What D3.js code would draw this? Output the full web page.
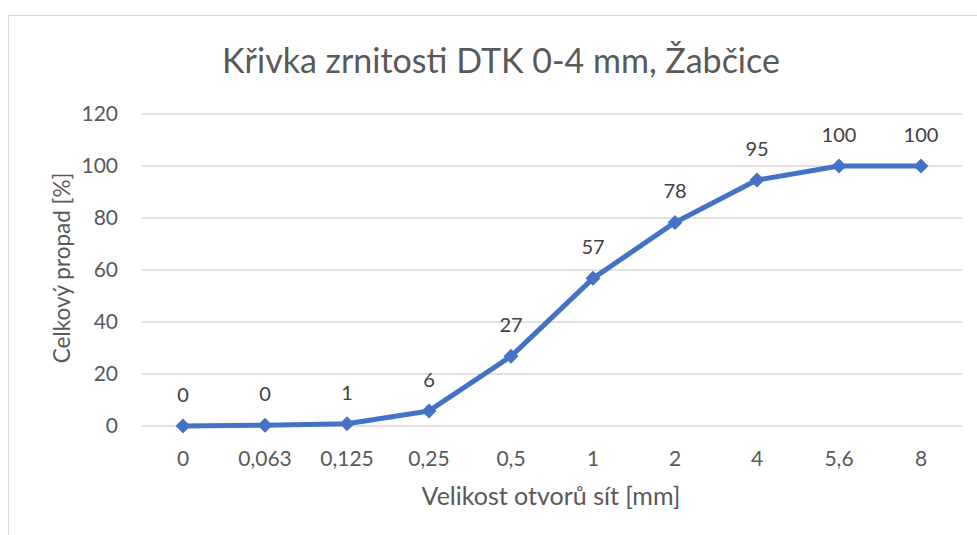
<!DOCTYPE html>
<html lang="cs">
<head>
<meta charset="UTF-8">
<title>Křivka zrnitosti</title>
<script src="https://d3js.org/d3.v7.min.js"></script>
<style>
  body, html { margin: 0; background: #fff; }
  svg { display: block; font-family: Lato, 'Open Sans', sans-serif; }
</style>
</head>
<body>
<svg id="chart" width="977" height="535"></svg>
<script>
const sieves = ["0", "0,063", "0,125", "0,25", "0,5", "1", "2", "4", "5,6", "8"];
const passing = [0, 0.3, 0.9, 5.8, 26.8, 56.8, 78.3, 94.6, 100, 100];
const yTicks = [0, 20, 40, 60, 80, 100, 120];

const svg = d3.select("#chart");
const m = {left: 142, right: 15, top: 114, bottom: 109};
const W = 977, H = 535;

// chart frame
svg.append("rect")
  .attr("x", 8.5).attr("y", 15.5)
  .attr("width", 1000).attr("height", 600)
  .attr("fill", "#fff").attr("stroke", "#d9d9d9");

const x = d3.scaleBand().domain(sieves).range([m.left, W - m.right]);
const y = d3.scaleLinear().domain([0, 120]).range([H - m.bottom, m.top]);

// gridlines
svg.append("g")
  .selectAll("line").data(yTicks).join("line")
  .attr("x1", m.left).attr("x2", W - m.right)
  .attr("y1", d => y(d)).attr("y2", d => y(d))
  .attr("stroke", "#d9d9d9").attr("stroke-width", 1.3);

const yAxis = svg.append("g")
  .attr("transform", `translate(${m.left - 24},0)`)
  .call(d3.axisLeft(y).tickValues(yTicks).tickSize(0).tickPadding(0));
yAxis.select(".domain").remove();
yAxis.attr("font-family", null).attr("font-size", 21)
  .selectAll("text").attr("fill", "#595959");

const xAxis = svg.append("g")
  .attr("transform", `translate(0,${H - m.bottom + 21})`)
  .call(d3.axisBottom(x).tickSize(0).tickPadding(4));
xAxis.select(".domain").remove();
xAxis.attr("font-family", null).attr("font-size", 21)
  .selectAll("text").attr("fill", "#595959");

// title + axis titles
svg.append("text")
  .attr("x", 501).attr("y", 73)
  .attr("text-anchor", "middle")
  .attr("fill", "#595959").attr("font-size", 34)
  .text("Křivka zrnitosti DTK 0-4 mm, Žabčice");

svg.append("text")
  .attr("x", 551).attr("y", 505)
  .attr("text-anchor", "middle")
  .attr("fill", "#595959").attr("font-size", 25)
  .text("Velikost otvorů sít [mm]");

svg.append("text")
  .attr("transform", `translate(70,${y(60) - 2}) rotate(-90)`)
  .attr("text-anchor", "middle")
  .attr("fill", "#595959").attr("font-size", 22.5)
  .text("Celkový propad [%]");

// series
const cx = d => x(d) + x.bandwidth() / 2;
const pts = sieves.map((s, i) => [cx(s), y(passing[i])]);

svg.append("path")
  .datum(pts)
  .attr("d", d3.line())
  .attr("fill", "none")
  .attr("stroke", "#4472c4")
  .attr("stroke-width", 5)
  .attr("stroke-linejoin", "round");

svg.append("g")
  .selectAll("path").data(pts).join("path")
  .attr("transform", d => `translate(${d[0]},${d[1]}) rotate(45)`)
  .attr("d", d3.symbol(d3.symbolSquare, 112))
  .attr("fill", "#4472c4");

svg.append("g")
  .selectAll("text").data(pts).join("text")
  .attr("x", d => d[0]).attr("y", d => d[1] - 24)
  .attr("text-anchor", "middle")
  .attr("fill", "#404040").attr("font-size", 20)
  .text((d, i) => Math.round(passing[i]));
</script>
</body>
</html>
